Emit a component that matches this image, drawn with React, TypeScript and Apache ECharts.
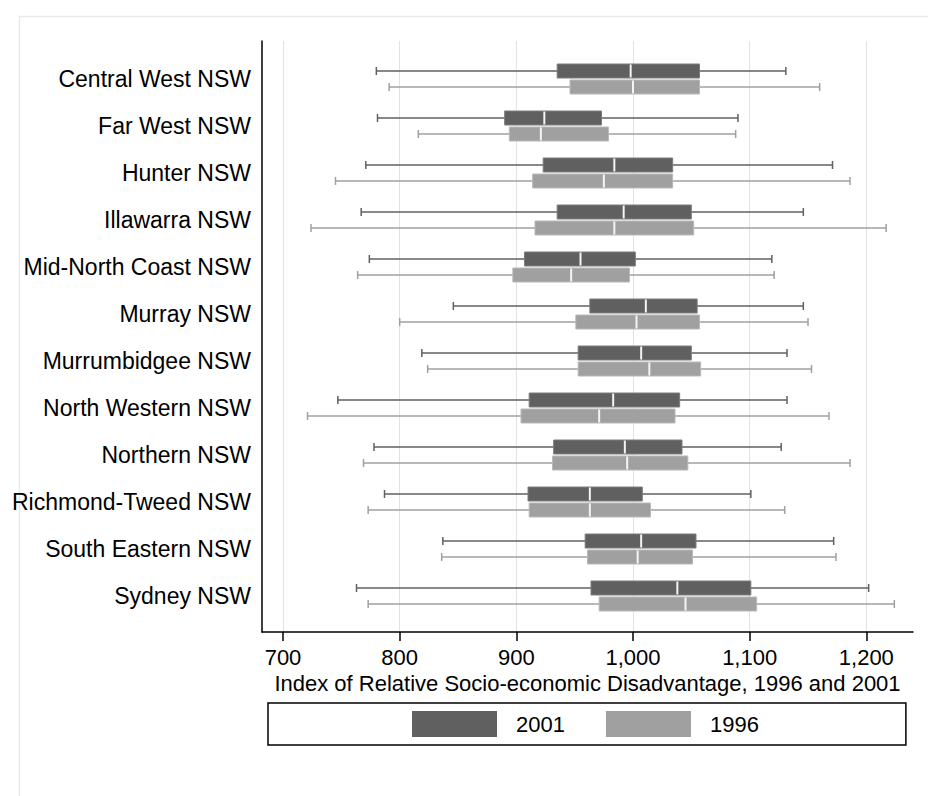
import React, { useEffect, useRef } from "react";
import * as echarts from "echarts";

// Statistical divisions of New South Wales (top to bottom)
const regions = [
  "Central West NSW",
  "Far West NSW",
  "Hunter NSW",
  "Illawarra NSW",
  "Mid-North Coast NSW",
  "Murray NSW",
  "Murrumbidgee NSW",
  "North Western NSW",
  "Northern NSW",
  "Richmond-Tweed NSW",
  "South Eastern NSW",
  "Sydney NSW",
];

// [lower adjacent, Q1, median, Q3, upper adjacent]
const stats2001 = [
  [780, 935, 998, 1057, 1131],
  [781, 890, 924, 973, 1090],
  [771, 923, 984, 1034, 1171],
  [767, 935, 992, 1050, 1146],
  [774, 907, 955, 1002, 1119],
  [846, 963, 1011, 1055, 1146],
  [819, 953, 1007, 1050, 1132],
  [747, 911, 983, 1040, 1132],
  [778, 932, 993, 1042, 1127],
  [787, 910, 963, 1008, 1101],
  [837, 959, 1007, 1054, 1172],
  [763, 964, 1038, 1101, 1202],
];

const stats1996 = [
  [791, 946, 1000, 1057, 1160],
  [816, 894, 921, 979, 1088],
  [745, 914, 975, 1034, 1186],
  [724, 916, 984, 1052, 1217],
  [764, 897, 947, 997, 1121],
  [800, 951, 1003, 1057, 1150],
  [824, 953, 1014, 1058, 1153],
  [721, 904, 971, 1036, 1168],
  [769, 931, 995, 1047, 1186],
  [773, 911, 963, 1015, 1130],
  [836, 961, 1004, 1051, 1174],
  [773, 971, 1045, 1106, 1224],
];

const xTicks = [700, 800, 900, 1000, 1100, 1200];
const xMin = 682;
const xMax = 1240;

const FONT = "'Liberation Sans', Arial, Helvetica, sans-serif";

function boxRenderer(offset: number, fill: string, edge: string, whisker: string) {
  return (params: any, api: any) => {
    const cat = api.value(0);
    const lo = api.coord([api.value(1), cat]);
    const q1 = api.coord([api.value(2), cat]);
    const md = api.coord([api.value(3), cat]);
    const q3 = api.coord([api.value(4), cat]);
    const hi = api.coord([api.value(5), cat]);
    const y = lo[1] + offset;
    const h = 14;
    const cap = 8;
    const wStyle = { stroke: whisker, lineWidth: 1.5 };
    return {
      type: "group",
      children: [
        { type: "line", shape: { x1: lo[0], y1: y, x2: hi[0], y2: y }, style: wStyle },
        { type: "line", shape: { x1: lo[0], y1: y - cap / 2, x2: lo[0], y2: y + cap / 2 }, style: wStyle },
        { type: "line", shape: { x1: hi[0], y1: y - cap / 2, x2: hi[0], y2: y + cap / 2 }, style: wStyle },
        {
          type: "rect",
          shape: { x: q1[0], y: y - h / 2, width: q3[0] - q1[0], height: h },
          style: { fill, stroke: edge, lineWidth: 1 },
        },
        {
          type: "line",
          shape: { x1: md[0], y1: y - h / 2 + 0.5, x2: md[0], y2: y + h / 2 - 0.5 },
          style: { stroke: "#f4f4f4", lineWidth: 2 },
        },
      ],
    };
  };
}

export default function App() {
  const ref = useRef<HTMLDivElement>(null);

  useEffect(() => {
    if (!ref.current) return;
    const chart = echarts.init(ref.current, undefined, { renderer: "svg" });

    const data2001 = regions.map((r, i) => [r, ...stats2001[i]]);
    const data1996 = regions.map((r, i) => [r, ...stats1996[i]]);

    chart.setOption({
      animation: false,
      backgroundColor: "#ffffff",
      textStyle: { fontFamily: FONT },
      graphic: [
        {
          type: "rect",
          left: 17,
          top: 14,
          shape: { width: 960, height: 850 },
          style: { fill: "none", stroke: "#e9e9e9", lineWidth: 1.5 },
          silent: true,
        },
      ],
      legend: {
        left: 268,
        top: 703,
        orient: "horizontal",
        padding: [8, 147, 8, 144],
        borderColor: "#000",
        borderWidth: 1.5,
        itemWidth: 85,
        itemHeight: 26,
        itemGap: 41,
        selectedMode: false,
        textStyle: { fontSize: 22, color: "#000", fontFamily: FONT, padding: [0, 0, 0, 14] },
        data: [
          { name: "2001", icon: "rect" },
          { name: "1996", icon: "rect" },
        ],
      },
      grid: [
        { left: 262, right: 15, top: 41, height: 591 },
        { left: 262, right: 15, top: 55.5, height: 564 },
      ],
      xAxis: [
        {
          gridIndex: 0,
          type: "value",
          min: xMin,
          max: xMax,
          axisLine: { show: true, onZero: false, lineStyle: { color: "#000", width: 1.5 } },
          axisTick: { show: true, customValues: xTicks, length: 9, lineStyle: { color: "#000", width: 1.5 } },
          axisLabel: {
            customValues: xTicks,
            fontSize: 22,
            color: "#000",
            margin: 14,
            fontFamily: FONT,
            formatter: (v: number) => v.toLocaleString("en-US"),
          },
          splitLine: { show: true, lineStyle: { color: "#e2e2e2", width: 1 } },
          name: "Index of Relative Socio-economic Disadvantage, 1996 and 2001",
          nameLocation: "middle",
          nameGap: 36,
          nameTextStyle: { fontSize: 22, color: "#000", fontFamily: FONT },
        },
        {
          gridIndex: 1,
          type: "value",
          min: xMin,
          max: xMax,
          show: false,
        },
      ],
      yAxis: [
        {
          gridIndex: 0,
          type: "value",
          min: 0,
          max: 1,
          axisLine: { show: true, onZero: false, lineStyle: { color: "#000", width: 1.5 } },
          axisTick: { show: false },
          axisLabel: { show: false },
          splitLine: { show: false },
        },
        {
          gridIndex: 1,
          type: "category",
          data: regions,
          inverse: true,
          axisLine: { show: false },
          axisTick: { show: false },
          splitLine: { show: false },
          axisLabel: { fontSize: 23, color: "#000", margin: 11, fontFamily: FONT },
        },
      ],
      series: [
        {
          name: "2001",
          type: "custom",
          xAxisIndex: 1,
          yAxisIndex: 1,
          itemStyle: { color: "#606060" },
          encode: { x: [1, 2, 3, 4, 5], y: 0 },
          renderItem: boxRenderer(-8, "#606060", "#7c7c7c", "#606060"),
          data: data2001,
        },
        {
          name: "1996",
          type: "custom",
          xAxisIndex: 1,
          yAxisIndex: 1,
          itemStyle: { color: "#a0a0a0" },
          encode: { x: [1, 2, 3, 4, 5], y: 0 },
          renderItem: boxRenderer(8, "#a0a0a0", "#b9b9b9", "#a0a0a0"),
          data: data1996,
        },
      ],
    });

    return () => chart.dispose();
  }, []);

  return (
    <div
      ref={ref}
      style={{ position: "fixed", left: 0, top: 0, width: 928, height: 796, background: "#fff" }}
    />
  );
}
